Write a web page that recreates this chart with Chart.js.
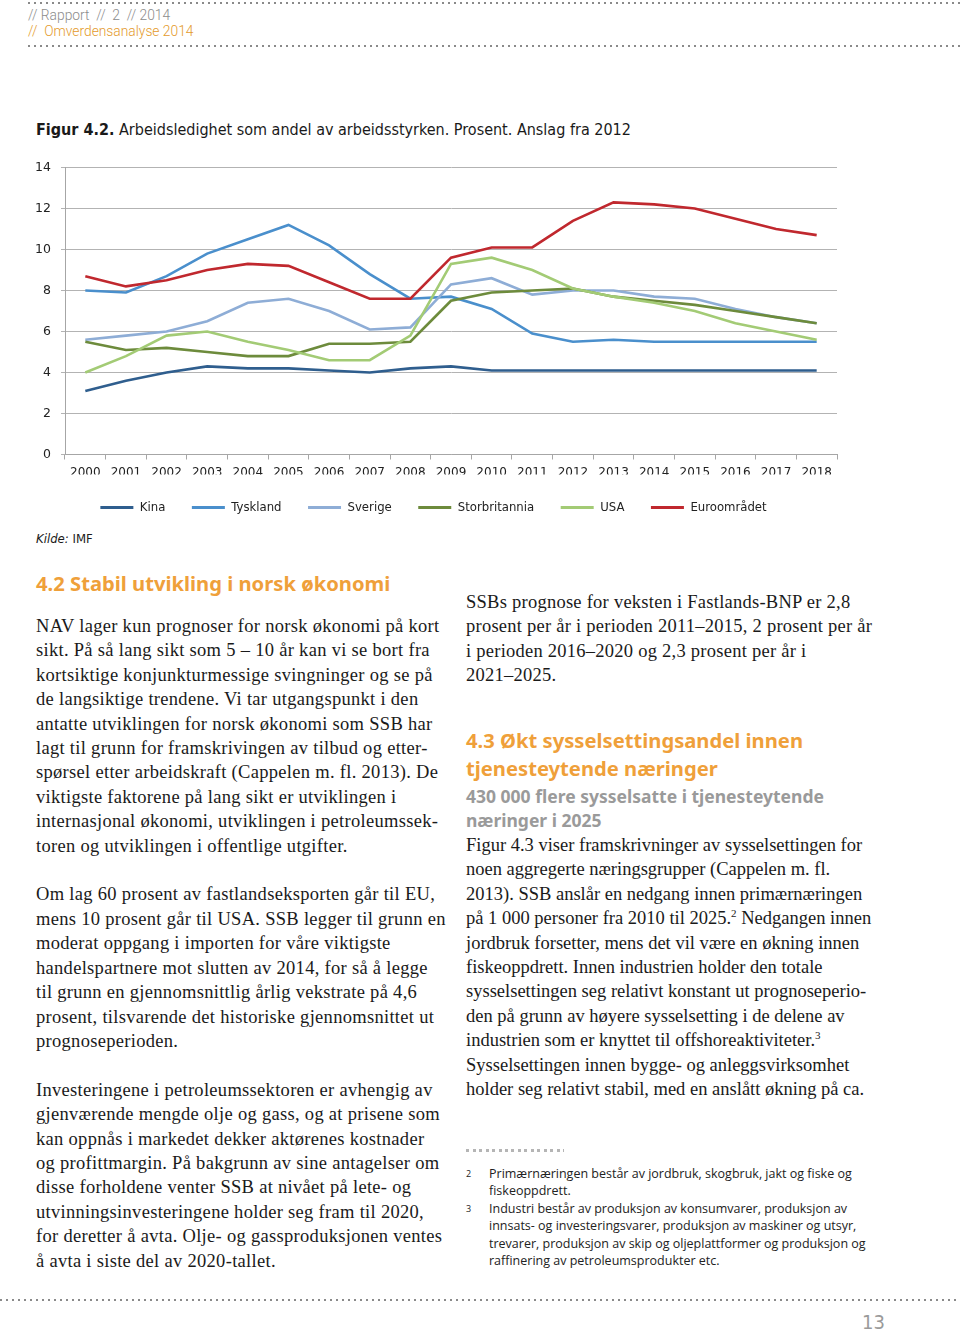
<!DOCTYPE html>
<html>
<head>
<meta charset="utf-8">
<script src="https://cdn.jsdelivr.net/npm/chart.js@4.4.1/dist/chart.umd.min.js"></script>
<style>
  html, body { margin: 0; padding: 0; background: #fff; }
  body { width: 960px; height: 1334px; position: relative; overflow: hidden; }
  .abs { position: absolute; white-space: nowrap; }
  .dots { position: absolute; height: 2px;
    background: repeating-linear-gradient(to right, #8a8a8a 0 2px, transparent 2px 6px); }
  .hdr { font-family: "Roboto", sans-serif; font-weight: 300; font-size: 13.8px; line-height: 16px; }
  .cond { font-family: "DejaVu Sans Condensed", "Liberation Sans Narrow", sans-serif; }
  .serif { font-family: "Liberation Serif", serif; font-size: 18.5px; line-height: 24.4px; color: #1a1a1a; }
  .h2 { font-family: "Noto Sans", sans-serif; font-weight: 700; font-size: 20.2px; line-height: 28px; color: #efa03a; }
  .h3 { font-family: "Noto Sans", sans-serif; font-weight: 700; font-size: 17.5px; line-height: 24px; color: #9a9a9a; }
  .fn { font-family: "Open Sans", sans-serif; font-size: 12.5px; line-height: 17.4px; color: #222; }
</style>
</head>
<body>
<div class="dots" style="left:28px; top:2px; width:932px;"></div>
<div class="abs hdr" style="left:28px; top:7px; color:#8c8c8c;">// Rapport&nbsp; //&nbsp; 2&nbsp; // 2014</div>
<div class="abs hdr" style="left:28px; top:23px; color:#e49a2c;">//&nbsp; Omverdensanalyse 2014</div>
<div class="dots" style="left:28px; top:45px; width:932px;"></div>

<div class="abs cond" style="left:36px; top:120px; font-size:16px; line-height:20px; color:#1a1a1a;"><b>Figur 4.2.</b> Arbeidsledighet som andel av arbeidsstyrken. Prosent. Anslag fra 2012</div>

<div style="position:absolute; left:30px; top:150px; width:815px; height:374px;">
  <canvas id="myChart" width="815" height="374"></canvas>
</div>

<div class="abs cond" style="left:36px; top:530px; font-size:13px; line-height:18px; color:#1a1a1a;"><i>Kilde:</i> IMF</div>

<div class="abs h2" style="left:36px; top:569px;">4.2 Stabil utvikling i norsk økonomi</div>

<div class="abs serif" style="left:36px; top:614px; letter-spacing:0.3px;">
NAV lager kun prognoser for norsk økonomi på kort<br>
sikt. På så lang sikt som 5 – 10 år kan vi se bort fra<br>
kortsiktige konjunkturmessige svingninger og se på<br>
de langsiktige trendene. Vi tar utgangspunkt i den<br>
antatte utviklingen for norsk økonomi som SSB har<br>
lagt til grunn for framskrivingen av tilbud og etter-<br>
spørsel etter arbeidskraft (Cappelen m. fl. 2013). De<br>
viktigste faktorene på lang sikt er utviklingen i<br>
internasjonal økonomi, utviklingen i petroleumssek-<br>
toren og utviklingen i offentlige utgifter.<br>
<br>
Om lag 60 prosent av fastlandseksporten går til EU,<br>
mens 10 prosent går til USA. SSB legger til grunn en<br>
moderat oppgang i importen for våre viktigste<br>
handelspartnere mot slutten av 2014, for så å legge<br>
til grunn en gjennomsnittlig årlig vekstrate på 4,6<br>
prosent, tilsvarende det historiske gjennomsnittet ut<br>
prognoseperioden.<br>
<br>
Investeringene i petroleumssektoren er avhengig av<br>
gjenværende mengde olje og gass, og at prisene som<br>
kan oppnås i markedet dekker aktørenes kostnader<br>
og profittmargin. På bakgrunn av sine antagelser om<br>
disse forholdene venter SSB at nivået på lete- og<br>
utvinningsinvesteringene holder seg fram til 2020,<br>
for deretter å avta. Olje- og gassproduksjonen ventes<br>
å avta i siste del av 2020-tallet.
</div>

<div class="abs serif" style="left:466px; top:590px; letter-spacing:0.25px;">
SSBs prognose for veksten i Fastlands-BNP er 2,8<br>
prosent per år i perioden 2011–2015, 2 prosent per år<br>
i perioden 2016–2020 og 2,3 prosent per år i<br>
2021–2025.
</div>

<div class="abs h2" style="left:466px; top:726px;">4.3 Økt sysselsettingsandel innen<br>tjenesteytende næringer</div>
<div class="abs h3" style="left:466px; top:784px;">430 000 flere sysselsatte i tjenesteytende<br>næringer i 2025</div>

<div class="abs serif" style="left:466px; top:833px;">
Figur 4.3 viser framskrivninger av sysselsettingen for<br>
noen aggregerte næringsgrupper (Cappelen m. fl.<br>
2013). SSB anslår en nedgang innen primærnæringen<br>
på 1 000 personer fra 2010 til 2025.<sup style="font-size:11px; line-height:0;">2</sup> Nedgangen innen<br>
jordbruk forsetter, mens det vil være en økning innen<br>
fiskeoppdrett. Innen industrien holder den totale<br>
sysselsettingen seg relativt konstant ut prognoseperio-<br>
den på grunn av høyere sysselsetting i de delene av<br>
industrien som er knyttet til offshoreaktiviteter.<sup style="font-size:11px; line-height:0;">3</sup><br>
Sysselsettingen innen bygge- og anleggsvirksomhet<br>
holder seg relativt stabil, med en anslått økning på ca.
</div>

<div style="position:absolute; left:466px; top:1149px; width:98px; height:3px;
  background: repeating-linear-gradient(to right, #b5b5b5 0 3px, transparent 3px 6.5px);"></div>

<div class="abs fn" style="left:466px; top:1165px; font-size:9px;">2</div>
<div class="abs fn" style="left:489px; top:1165px;">Primærnæringen består av jordbruk, skogbruk, jakt og fiske og<br>fiskeoppdrett.</div>
<div class="abs fn" style="left:466px; top:1200px; font-size:9px;">3</div>
<div class="abs fn" style="left:489px; top:1200px;">Industri består av produksjon av konsumvarer, produksjon av<br>innsats- og investeringsvarer, produksjon av maskiner og utsyr,<br>trevarer, produksjon av skip og oljeplattformer og produksjon og<br>raffinering av petroleumsprodukter etc.</div>

<div class="dots" style="left:0px; top:1299px; width:960px;"></div>
<div class="abs cond" style="left:862px; top:1310px; font-size:20px; line-height:24px; color:#9a9a9a;">13</div>

<script>
const years = ["2000", "2001", "2002", "2003", "2004", "2005", "2006", "2007", "2008", "2009",
               "2010", "2011", "2012", "2013", "2014", "2015", "2016", "2017", "2018"];
const yTicks = [0, 2, 4, 6, 8, 10, 12, 14];

const kina          = [3.1, 3.6, 4.0, 4.3, 4.2, 4.2, 4.1, 4.0, 4.2, 4.3, 4.1, 4.1, 4.1, 4.1, 4.1, 4.1, 4.1, 4.1, 4.1];
const tyskland      = [8.0, 7.9, 8.7, 9.8, 10.5, 11.2, 10.2, 8.8, 7.6, 7.7, 7.1, 5.9, 5.5, 5.6, 5.5, 5.5, 5.5, 5.5, 5.5];
const sverige       = [5.6, 5.8, 6.0, 6.5, 7.4, 7.6, 7.0, 6.1, 6.2, 8.3, 8.6, 7.8, 8.0, 8.0, 7.7, 7.6, 7.1, 6.7, 6.4];
const storbritannia = [5.5, 5.1, 5.2, 5.0, 4.8, 4.8, 5.4, 5.4, 5.5, 7.5, 7.9, 8.0, 8.1, 7.7, 7.5, 7.3, 7.0, 6.7, 6.4];
const usa           = [4.0, 4.8, 5.8, 6.0, 5.5, 5.1, 4.6, 4.6, 5.8, 9.3, 9.6, 9.0, 8.1, 7.7, 7.4, 7.0, 6.4, 6.0, 5.6];
const euroomradet   = [8.7, 8.2, 8.5, 9.0, 9.3, 9.2, 8.4, 7.6, 7.6, 9.6, 10.1, 10.1, 11.4, 12.3, 12.2, 12.0, 11.5, 11.0, 10.7];

const serie = (label, data, color) => ({
    label: label,
    data: data,
    borderColor: color,
    backgroundColor: color,
    borderWidth: 2.6,
    pointRadius: 0,
    tension: 0,
    fill: false
});

const ctx = document.getElementById('myChart').getContext('2d');
const myChart = new Chart(ctx, {
    type: 'line',
    data: {
        labels: years,
        datasets: [
            serie('Kina', kina, '#2f5e8e'),
            serie('Tyskland', tyskland, '#4a8fcc'),
            serie('Sverige', sverige, '#8eadd6'),
            serie('Storbritannia', storbritannia, '#6d8b3c'),
            serie('USA', usa, '#a3cb75'),
            serie('Euroområdet', euroomradet, '#c0282e')
        ].reverse()
    },
    options: {
        responsive: false,
        animation: false,
        devicePixelRatio: 1,
        layout: { padding: { top: 14, right: 8, left: 0, bottom: 0 } },
        scales: {
            x: {
                offset: true,
                grid: { offset: true, drawOnChartArea: false, tickLength: 5, color: '#a6a6a6' },
                border: { color: '#a6a6a6' },
                ticks: { color: '#222', font: { family: 'DejaVu Sans', size: 12 }, padding: 6, maxRotation: 0 },
                afterFit: (s) => { s.height = 20; }
            },
            y: {
                min: 0,
                max: 14,
                afterBuildTicks: (s) => { s.ticks = yTicks.map(v => ({ value: v })); },
                grid: { color: '#b3b3b3', tickLength: 4 },
                border: { color: '#a6a6a6' },
                ticks: { color: '#222', font: { family: 'DejaVu Sans', size: 12.5 }, padding: 10 },
                afterFit: (s) => { s.width = 35; }
            }
        },
        plugins: {
            tooltip: { enabled: false },
            legend: {
                position: 'bottom',
                reverse: true,
                labels: {
                    boxWidth: 33,
                    boxHeight: 3,
                    padding: 26.5,
                    color: '#222',
                    font: { family: 'DejaVu Sans Condensed', size: 13 },
                    generateLabels: (chart) => Chart.defaults.plugins.legend.labels.generateLabels(chart)
                        .map(l => Object.assign(l, { lineWidth: 0 }))
                }
            }
        }
    }
});
</script>
</body>
</html>
